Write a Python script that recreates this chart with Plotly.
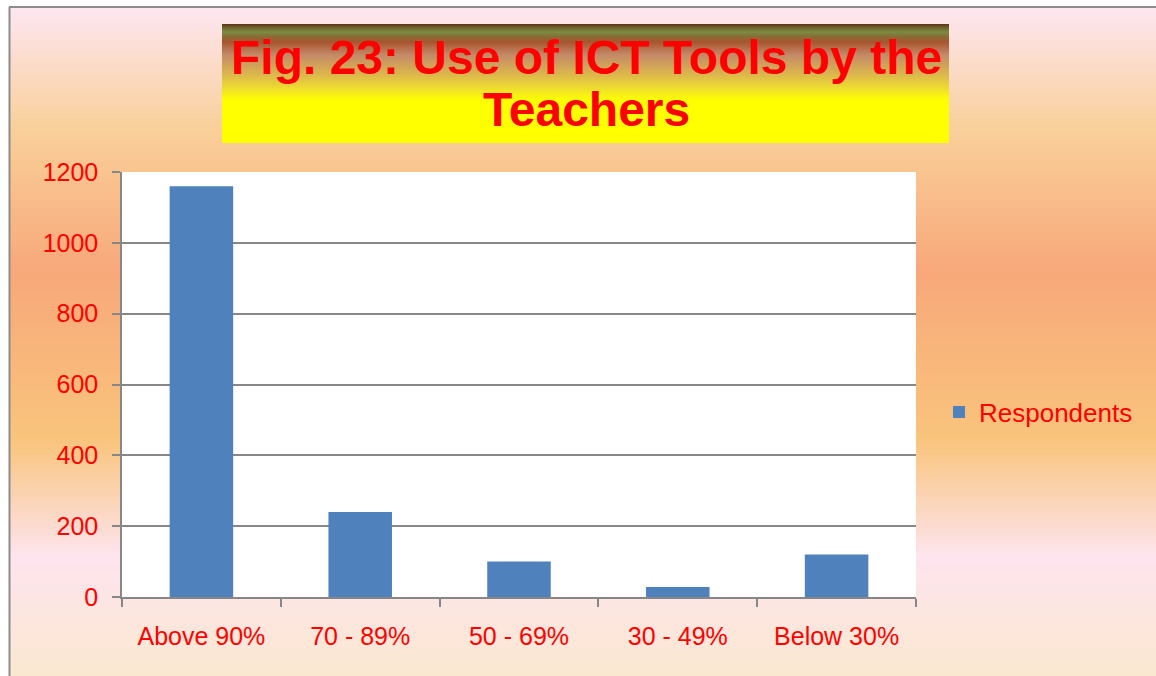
import plotly.graph_objects as go

# ---- data ----
categories = ["Above 90%", "70 - 89%", "50 - 69%", "30 - 49%", "Below 30%"]
respondents = [1160, 240, 100, 28, 120]
series_name = "Respondents"
y_ticks = [0, 200, 400, 600, 800, 1000, 1200]
title_line1 = "Fig. 23: Use of ICT Tools by the"
title_line2 = "Teachers"

# ---- geometry (pixels) ----
W, H = 1156, 676
L, R, T, B = 122, 916, 172, 597  # plot area in px
pw, ph = R - L, B - T

def px_x(x):
    return (x - L) / pw

def px_y(y):
    return (B - y) / ph

def hex2rgb(h):
    h = h.lstrip("#")
    return tuple(int(h[i:i + 2], 16) for i in (0, 2, 4))

def interp(stops, y):
    for (y0, c0), (y1, c1) in zip(stops, stops[1:]):
        if y0 <= y <= y1:
            t = 0 if y1 == y0 else (y - y0) / (y1 - y0)
            a, b = hex2rgb(c0), hex2rgb(c1)
            return "rgb(%d,%d,%d)" % tuple(round(a[i] + (b[i] - a[i]) * t) for i in range(3))
    return stops[-1][1] if y > stops[-1][0] else stops[0][1]

shapes = []

# background gradient of the slide
bg_stops = [(7, "#fde6f2"), (128, "#f9d09a"), (271, "#f8a87a"), (440, "#f9c47c"),
            (557, "#fde4ee"), (676, "#fbe8d0")]
step = 3
for y in range(8, H, step):
    shapes.append(dict(type="rect", xref="paper", yref="paper", layer="below",
                       x0=px_x(10), x1=px_x(W + 2), y0=px_y(y), y1=px_y(min(y + step + 0.5, H + 2)),
                       fillcolor=interp(bg_stops, y + step / 2), line=dict(width=0)))

# frame lines
shapes.append(dict(type="line", xref="paper", yref="paper", layer="below",
                   x0=px_x(9.5), x1=px_x(9.5), y0=px_y(7), y1=px_y(H + 2),
                   line=dict(color="#8c8c8c", width=2)))
shapes.append(dict(type="line", xref="paper", yref="paper", layer="below",
                   x0=px_x(9), x1=px_x(W + 2), y0=px_y(7), y1=px_y(7),
                   line=dict(color="#8c8c8c", width=2)))

# title box gradient
tb_stops = [(24, "#5c3317"), (27, "#6a5a28"), (32, "#7a8c42"), (37, "#8a6a35"),
            (42, "#a85530"), (55, "#c48a68"), (75, "#dcb84c"), (88, "#eedc30"),
            (100, "#ffff00"), (143, "#ffff00")]
for y in range(24, 143, 1):
    shapes.append(dict(type="rect", xref="paper", yref="paper", layer="below",
                       x0=px_x(222), x1=px_x(949), y0=px_y(y), y1=px_y(min(y + 1.5, 143)),
                       fillcolor=interp(tb_stops, y + 0.5), line=dict(width=0)))

# white plot area
shapes.append(dict(type="rect", xref="paper", yref="paper", layer="below",
                   x0=0, x1=1, y0=0, y1=1, fillcolor="white", line=dict(width=0)))

FONT = "Liberation Sans, Arial, sans-serif"
RED = "#ff0000"
GRAY = "#878787"

fig = go.Figure()
fig.add_trace(go.Bar(x=categories, y=respondents, name=series_name,
                     marker=dict(color="#4f81bd", line=dict(width=0)),
                     showlegend=True))

annotations = [
    dict(text="<b>%s</b>" % title_line1, xref="paper", yref="paper",
         x=px_x(586), y=px_y(57), xanchor="center", yanchor="middle",
         showarrow=False, font=dict(family=FONT, size=48, color=RED)),
    dict(text="<b>%s</b>" % title_line2, xref="paper", yref="paper",
         x=px_x(586), y=px_y(110), xanchor="center", yanchor="middle",
         showarrow=False, font=dict(family=FONT, size=48, color=RED)),
]

fig.update_layout(
    width=W, height=H,
    margin=dict(l=L, r=W - R, t=T, b=H - B, pad=0),
    paper_bgcolor="white",
    plot_bgcolor="rgba(0,0,0,0)",
    shapes=shapes,
    annotations=annotations,
    bargap=0.6,
    showlegend=True,
    legend=dict(x=px_x(939), y=px_y(412), xanchor="left", yanchor="middle",
                bgcolor="rgba(0,0,0,0)", font=dict(family=FONT, size=26, color=RED)),
    font=dict(family=FONT, size=25, color=RED),
)

fig.update_yaxes(range=[0, 1200], tickvals=y_ticks, ticktext=[str(v) for v in y_ticks],
                 showgrid=True, gridcolor=GRAY, gridwidth=1.5,
                 showline=True, linecolor=GRAY, linewidth=1.5,
                 ticks="outside", ticklen=8, tickcolor=GRAY, tickwidth=1.5,
                 ticklabelstandoff=9, tickfont=dict(family=FONT, size=25, color=RED),
                 zeroline=False)
fig.update_xaxes(type="category", showgrid=False,
                 showline=True, linecolor=GRAY, linewidth=1.5,
                 ticks="outside", ticklen=8, tickcolor=GRAY, tickwidth=1.5,
                 tickson="boundaries", ticklabelstandoff=16,
                 tickfont=dict(family=FONT, size=25, color=RED))

fig.write_html("out.html", config={"displayModeBar": False},
               post_script="document.body.style.margin='0';document.body.style.overflow='hidden';")
